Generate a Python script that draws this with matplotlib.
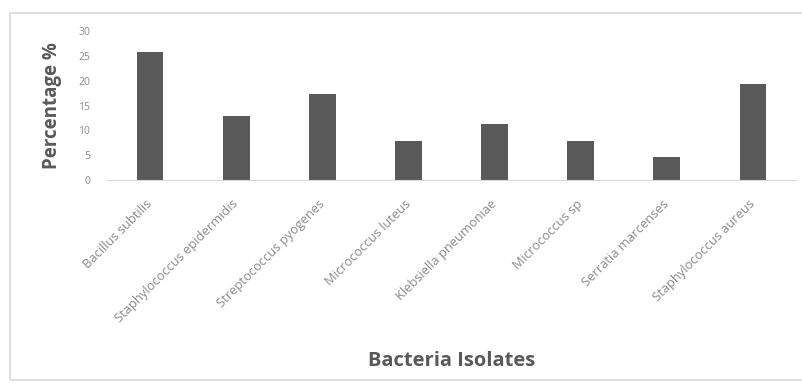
import matplotlib.pyplot as plt
from matplotlib.patches import Rectangle

# Isolate names and their share of all isolates (%)
isolates = ["Bacillus subtilis", "Staphylococcus epidermidis", "Streptococcus pyogenes",
            "Micrococcus luteus", "Klebsiella pneumoniae", "Micrococcus sp",
            "Serratia marcenses", "Staphylococcus aureus"]
percent = [25.8, 12.8, 17.4, 7.9, 11.2, 7.9, 4.7, 19.3]
yticks = [0, 5, 10, 15, 20, 25, 30]

plt.rcParams['font.family'] = ['Open Sans', 'DejaVu Sans']

fig = plt.figure(figsize=(8.03, 3.88), dpi=100)
# light frame around the chart area
fig.patches.append(Rectangle((10 / 803, 8 / 388), 800 / 803, 367 / 388,
                             transform=fig.transFigure, fill=False,
                             edgecolor="#d9d9d9", linewidth=1.2))

ax = fig.add_axes([107 / 803, 1 - 180 / 388, 689 / 803, 149 / 388])
x = range(len(isolates))
ax.bar(x, percent, width=0.31, color="#595959")

ax.set_xlim(-0.5, len(isolates) - 0.5)
ax.set_ylim(0, 30)
ax.set_yticks(yticks)
ax.tick_params(axis="y", length=0, labelsize=7.5, labelcolor="#8a8a8a", pad=12)
ax.tick_params(axis="x", length=0, labelsize=9.3, labelcolor="#8a8a8a", pad=16)
ax.set_xticks(list(x))
ax.set_xticklabels(isolates, rotation=45, ha="right", va="center", rotation_mode="anchor")

for s in ["top", "right", "left"]:
    ax.spines[s].set_visible(False)
ax.spines["bottom"].set_color("#d9d9d9")

ax.set_ylabel("Percentage %", fontsize=13.5, fontweight="bold", color="#595959", labelpad=12)
fig.text(452 / 803, 1 - 361 / 388, "Bacteria Isolates", fontsize=14.5,
         fontweight="bold", color="#595959", ha="center", va="center")

fig.savefig("out.png", dpi=100)
